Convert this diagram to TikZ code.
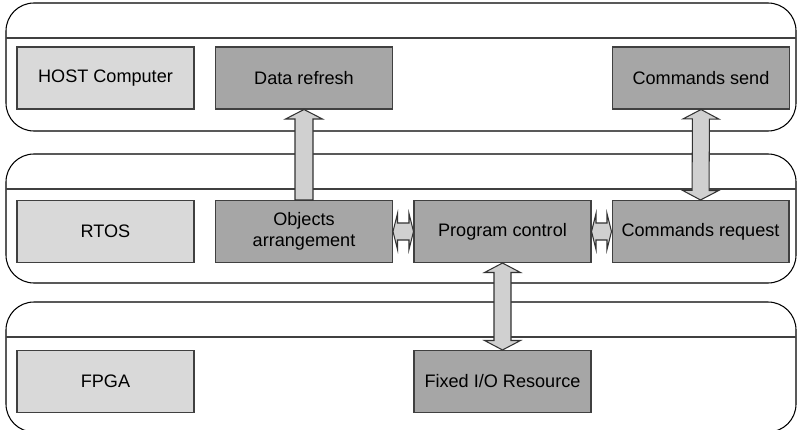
\documentclass[tikz,border=0pt]{standalone}
\usepackage{fontspec}
\setmainfont{Liberation Sans}
\usepackage{tikz}
\usetikzlibrary{arrows}
\usetikzlibrary{shapes}
\usetikzlibrary{calc}

\definecolor{boxlight}{HTML}{D9D9D9}
\definecolor{boxdark}{HTML}{A6A6A6}
\definecolor{arrowfill}{HTML}{D0D0D0}

\tikzset{
    layer/.style={draw=black, line width=0.6pt, rounded corners=0.56cm},
    divider/.style={draw=black!75, line width=0.6pt},
    namebox/.style={rectangle, draw=black!75, line width=0.6pt, fill=boxlight, minimum width=3.54cm, minimum height=1.24cm, align=center, font=\fontsize{10.3}{12}\selectfont},
    taskbox/.style={namebox, fill=boxdark},
    fatone/.style={draw=black!80, fill=arrowfill, line width=0.6pt, to path={
        let \p1=(\tikztostart), \p2=(\tikztotarget), \n1={atan2(\y2-\y1,\x2-\x1)}, \n2={veclen(\x2-\x1,\y2-\y1)} in
        ($(\p1)+(\n1+90:0.18cm)$) -- ($(\p1)+(\n1:\n2-0.19cm)+(\n1+90:0.18cm)$) -- ($(\p1)+(\n1:\n2-0.19cm)+(\n1+90:0.37cm)$) -- (\p2)
        -- ($(\p1)+(\n1:\n2-0.19cm)+(\n1-90:0.37cm)$) -- ($(\p1)+(\n1:\n2-0.19cm)+(\n1-90:0.18cm)$) -- ($(\p1)+(\n1-90:0.18cm)$) -- cycle}},
    fatboth/.style={draw=black!80, fill=arrowfill, line width=0.6pt, to path={
        let \p1=(\tikztostart), \p2=(\tikztotarget), \n1={atan2(\y2-\y1,\x2-\x1)}, \n2={veclen(\x2-\x1,\y2-\y1)} in
        (\p1) -- ($(\p1)+(\n1:#1)+(\n1+90:0.36cm)$) -- ($(\p1)+(\n1:#1)+(\n1+90:0.17cm)$)
        -- ($(\p1)+(\n1:\n2-#1)+(\n1+90:0.17cm)$) -- ($(\p1)+(\n1:\n2-#1)+(\n1+90:0.36cm)$) -- (\p2)
        -- ($(\p1)+(\n1:\n2-#1)+(\n1-90:0.36cm)$) -- ($(\p1)+(\n1:\n2-#1)+(\n1-90:0.17cm)$)
        -- ($(\p1)+(\n1:#1)+(\n1-90:0.17cm)$) -- ($(\p1)+(\n1:#1)+(\n1-90:0.36cm)$) -- cycle}},
    fatboth/.default=0.19cm
}

\begin{document}
\begin{tikzpicture}[x=0.02cm, y=-0.02cm]
    \useasboundingbox (0,0) rectangle (797,429);

    % layers
    \draw[layer] (6,3) rectangle (796,131);
    \draw[divider] (6,38) -- (796,38);
    \draw[layer] (6,154) rectangle (796,283);
    \draw[divider] (6,189) -- (796,189);
    \draw[layer] (6,302) rectangle (796,432);
    \draw[divider] (6,337) -- (796,337);

    % host
    \node (host) [namebox] at (105.5,78) {HOST Computer};
    \node (refresh) [taskbox] at (304,78) {Data refresh};
    \node (send) [taskbox] at (701,78) {Commands send};

    % rtos
    \node (rtos) [namebox] at (105.5,231.5) {RTOS};
    \node (objects) [taskbox] at (304,231.5) {\begin{tabular}{c}
         Objects\\arrangement
    \end{tabular}};
    \node (control) [taskbox] at (502.5,231.5) {Program control};
    \node (request) [taskbox] at (700.5,231.5) {Commands request};

    % fpga
    \node (fpga) [namebox] at (105.5,381.5) {FPGA};
    \node (fixedio) [taskbox] at (502.5,381.5) {Fixed I/O Resource};

    \draw[fatone] (objects.north) to (refresh.south);
    \draw[fatboth] (request.north) to (send.south);
    \draw[fatboth=0.09cm] (objects.east) to (control.west);
    \draw[fatboth=0.09cm] (control.east) to (request.west);
    \draw[fatboth] (control.south) to (fixedio.north);
\end{tikzpicture}
\end{document}
